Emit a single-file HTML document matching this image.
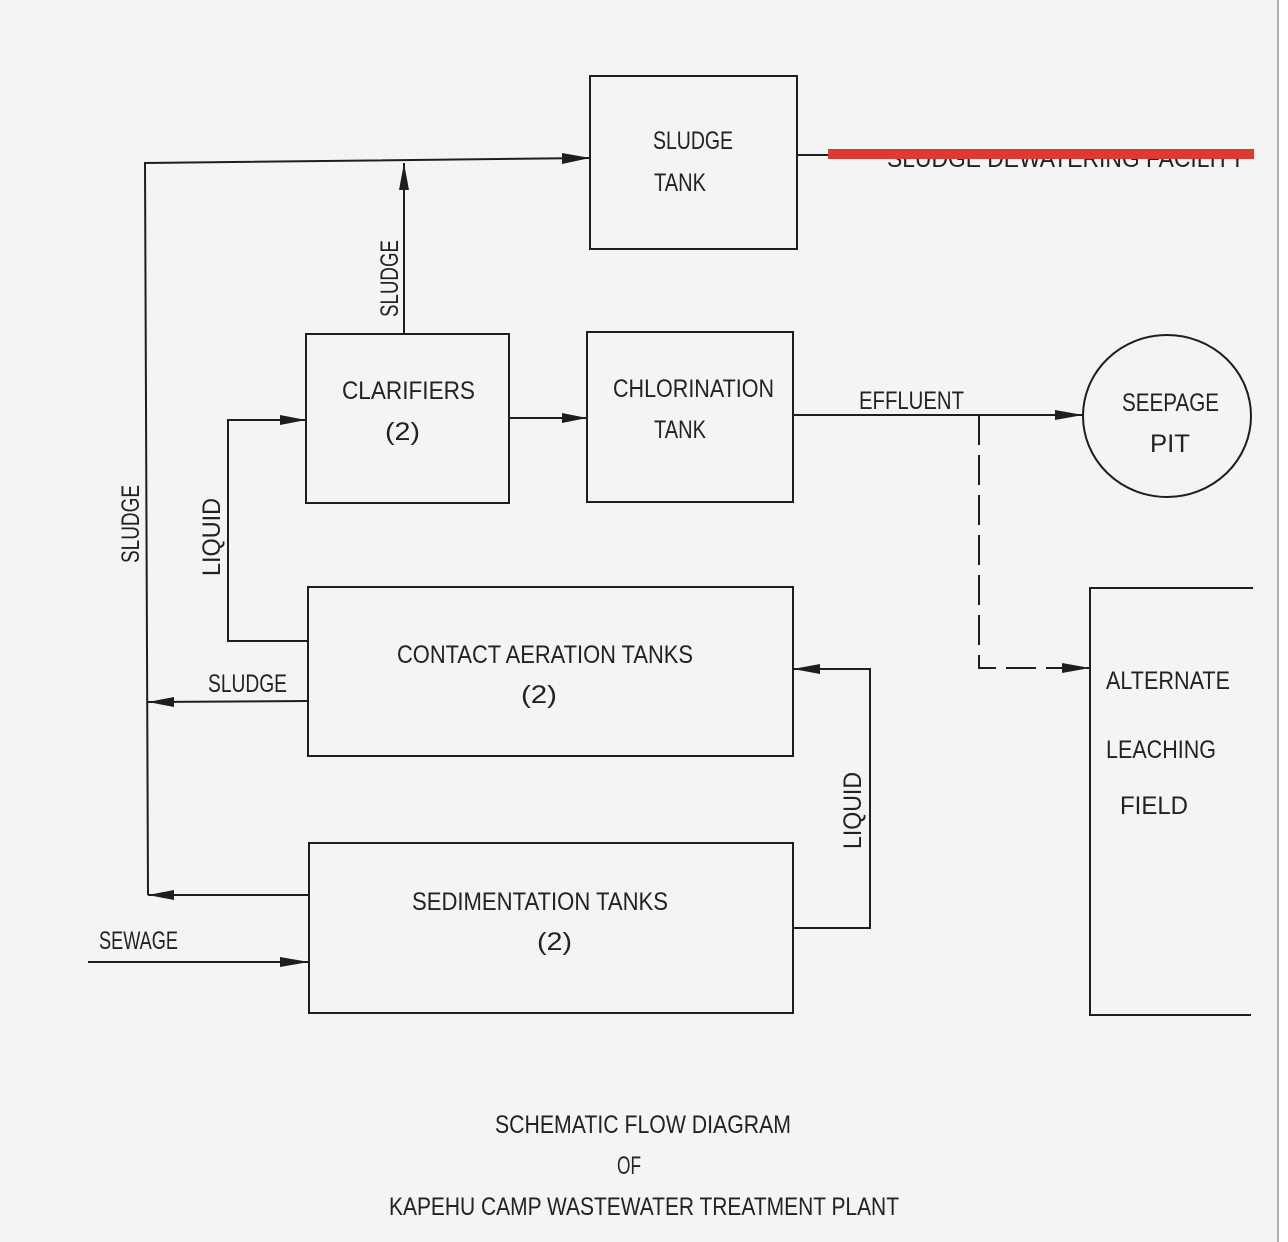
<!DOCTYPE html>
<html>
<head>
<meta charset="utf-8">
<style>
  html, body { margin: 0; padding: 0; background: #f4f4f4; }
  svg { display: block; }
  text { font-family: "Liberation Sans", sans-serif; font-size: 25px; fill: #222; }
</style>
</head>
<body>
<svg width="1288" height="1242" viewBox="0 0 1288 1242" xmlns="http://www.w3.org/2000/svg">
  <rect x="0" y="0" width="1288" height="1242" fill="#f4f4f4"/>
  <rect x="1279" y="0" width="9" height="1242" fill="#ffffff"/>
  <line x1="1278" y1="0" x2="1278" y2="1242" stroke="#999" stroke-width="1.5"/>

  <g fill="none" stroke="#1e1e1e" stroke-width="2">
    <!-- Boxes -->
    <rect x="590" y="76" width="207" height="173"/>
    <rect x="306" y="334" width="203" height="169"/>
    <rect x="587" y="332" width="206" height="170"/>
    <rect x="308" y="587" width="485" height="169"/>
    <rect x="309" y="843" width="484" height="170"/>
    <ellipse cx="1167" cy="416" rx="84" ry="81"/>
    <!-- Leaching field (open right) -->
    <polyline points="1253,588 1090,588 1090,1015 1251,1015"/>

    <!-- Connectors -->
    <polyline points="148,895 145,163 590,158"/>
    <line x1="404" y1="334" x2="404" y2="163"/>
    <polyline points="308,641 228,641 228,420 306,420"/>
    <line x1="509" y1="418" x2="587" y2="418"/>
    <line x1="793" y1="415" x2="1083" y2="415"/>
    <polyline points="979,415 979,668 1090,668" stroke-dasharray="30 10"/>
    <polyline points="793,928 870,928 870,669 793,669"/>
    <line x1="308" y1="701" x2="148" y2="702"/>
    <line x1="309" y1="895" x2="148" y2="895"/>
    <line x1="88" y1="962" x2="309" y2="962"/>
    <line x1="797" y1="155" x2="860" y2="155"/>
  </g>

  <!-- Arrowheads -->
  <g fill="#1e1e1e">
    <polygon points="590,158 562,153 562,164"/>
    <polygon points="404,163 399,190 409,190"/>
    <polygon points="306,420 280,415 280,425"/>
    <polygon points="587,418 562,413 562,423"/>
    <polygon points="1083,415 1055,410 1055,420"/>
    <polygon points="1090,668 1062,663 1062,673"/>
    <polygon points="793,669 820,664 820,674"/>
    <polygon points="148,702 174,697 174,707"/>
    <polygon points="148,895 174,890 174,900"/>
    <polygon points="309,962 280,957 280,967"/>
    <polygon points="866,155 852,151 852,159"/>
  </g>

  <!-- Box labels -->
  <text x="653" y="149" textLength="80" lengthAdjust="spacingAndGlyphs">SLUDGE</text>
  <text x="654" y="191" textLength="52" lengthAdjust="spacingAndGlyphs">TANK</text>

  <text x="342" y="399" textLength="133" lengthAdjust="spacingAndGlyphs">CLARIFIERS</text>
  <text x="385" y="440" textLength="35" lengthAdjust="spacingAndGlyphs">(2)</text>

  <text x="613" y="397" textLength="161" lengthAdjust="spacingAndGlyphs">CHLORINATION</text>
  <text x="654" y="438" textLength="52" lengthAdjust="spacingAndGlyphs">TANK</text>

  <text x="397" y="663" textLength="296" lengthAdjust="spacingAndGlyphs">CONTACT AERATION TANKS</text>
  <text x="521" y="703" textLength="36" lengthAdjust="spacingAndGlyphs">(2)</text>

  <text x="412" y="910" textLength="256" lengthAdjust="spacingAndGlyphs">SEDIMENTATION TANKS</text>
  <text x="537" y="950" textLength="35" lengthAdjust="spacingAndGlyphs">(2)</text>

  <text x="1122" y="411" textLength="97" lengthAdjust="spacingAndGlyphs">SEEPAGE</text>
  <text x="1150" y="452" textLength="40" lengthAdjust="spacingAndGlyphs">PIT</text>

  <text x="1106" y="689" textLength="124" lengthAdjust="spacingAndGlyphs">ALTERNATE</text>
  <text x="1106" y="758" textLength="110" lengthAdjust="spacingAndGlyphs">LEACHING</text>
  <text x="1120" y="814" textLength="68" lengthAdjust="spacingAndGlyphs">FIELD</text>

  <!-- Connector labels -->
  <text x="859" y="409" textLength="105" lengthAdjust="spacingAndGlyphs">EFFLUENT</text>
  <text x="208" y="692" textLength="79" lengthAdjust="spacingAndGlyphs">SLUDGE</text>
  <text x="99" y="949" textLength="79" lengthAdjust="spacingAndGlyphs">SEWAGE</text>
  <text transform="translate(398,317) rotate(-90)" textLength="77" lengthAdjust="spacingAndGlyphs">SLUDGE</text>
  <text transform="translate(139,563) rotate(-90)" textLength="78" lengthAdjust="spacingAndGlyphs">SLUDGE</text>
  <text transform="translate(220,576) rotate(-90)" textLength="78" lengthAdjust="spacingAndGlyphs">LIQUID</text>
  <text transform="translate(861,849) rotate(-90)" textLength="77" lengthAdjust="spacingAndGlyphs">LIQUID</text>

  <!-- Sludge dewatering label (partly covered by red bar) -->
  <text x="887" y="167" textLength="358" lengthAdjust="spacingAndGlyphs">SLUDGE DEWATERING FACILITY</text>
  <rect x="828" y="149" width="426" height="10" fill="#dc3a33"/>

  <!-- Title -->
  <text x="495" y="1133" textLength="296" lengthAdjust="spacingAndGlyphs">SCHEMATIC FLOW DIAGRAM</text>
  <text x="617" y="1174" textLength="24" lengthAdjust="spacingAndGlyphs">OF</text>
  <text x="389" y="1215" textLength="510" lengthAdjust="spacingAndGlyphs">KAPEHU CAMP WASTEWATER TREATMENT PLANT</text>
</svg>
</body>
</html>
